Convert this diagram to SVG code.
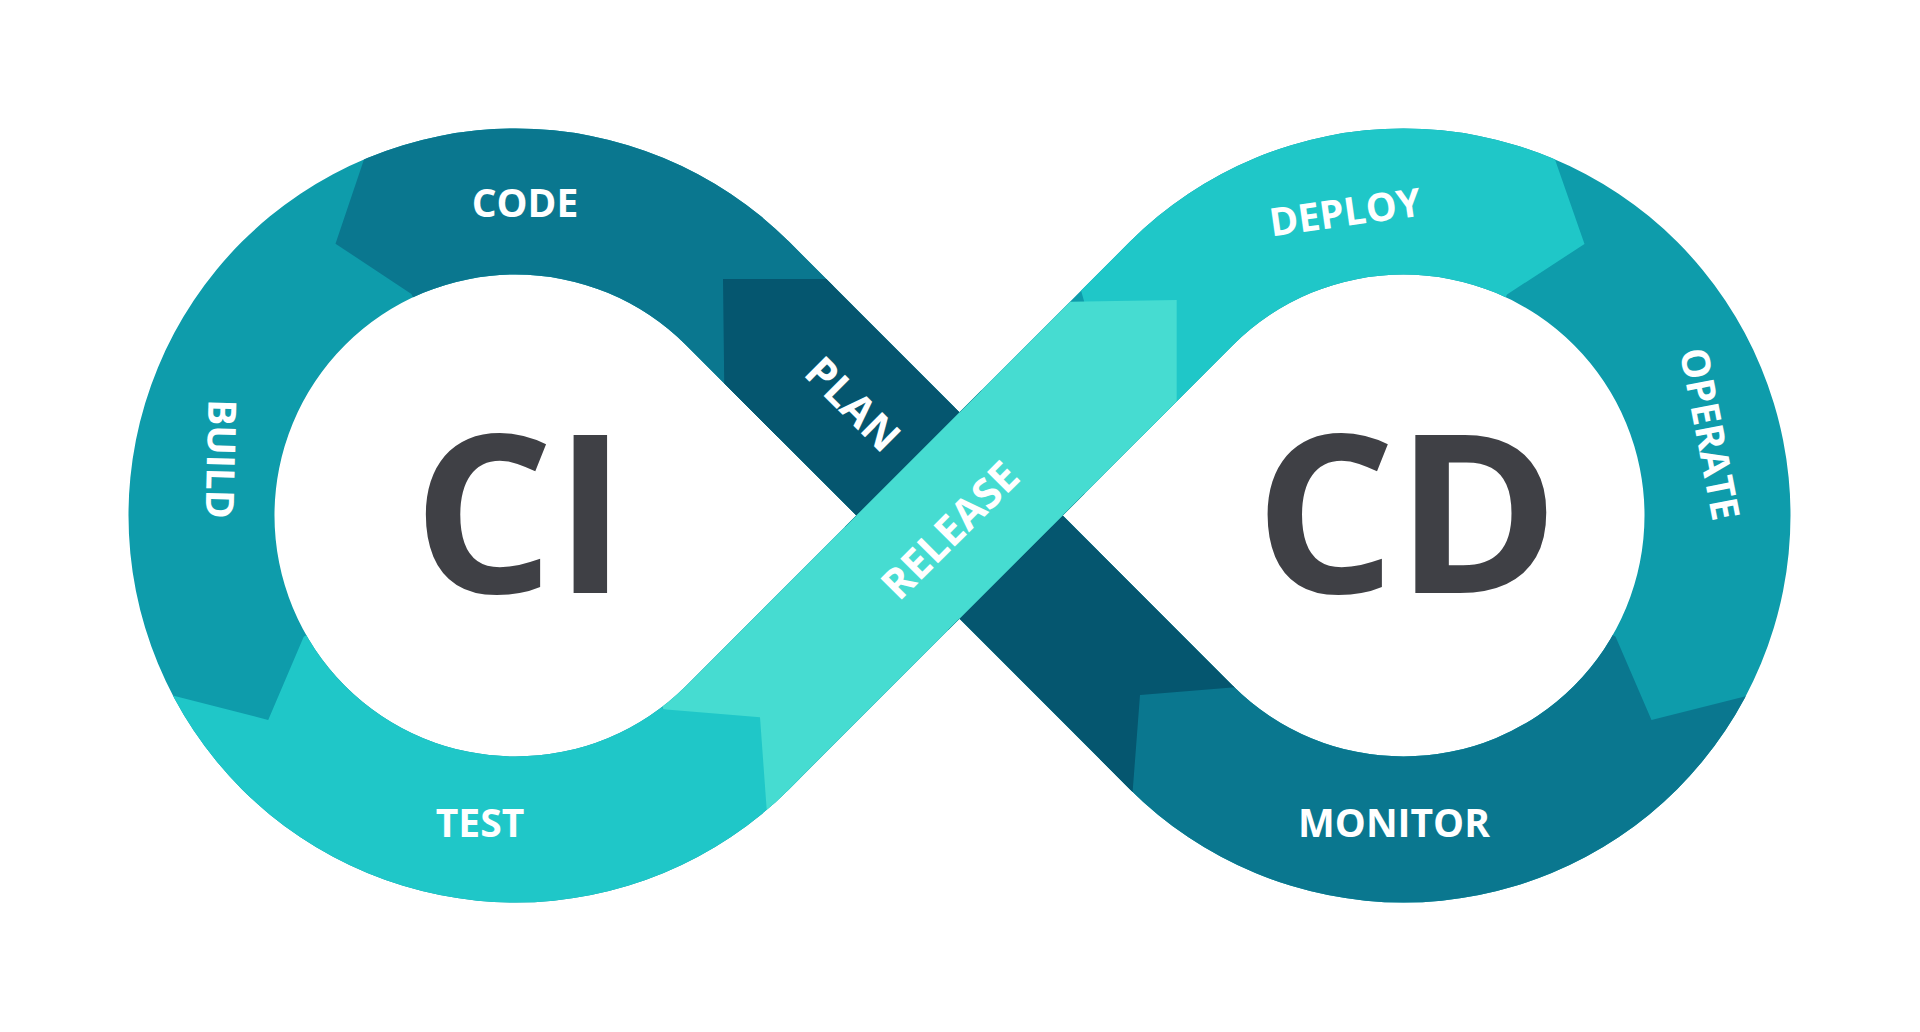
<svg xmlns="http://www.w3.org/2000/svg" width="1920" height="1032" viewBox="0 0 1920 1032">
<defs>
<clipPath id="inf">
<path clip-rule="evenodd" d="M789.15,241.85 L959.5,412.2 L1129.85,241.85 A387,387 0 1 1 1129.85,789.15 L959.5,618.75 L789.15,789.15 A387,387 0 1 1 789.15,241.85 Z M685.91,345.09 A241,241 0 1 0 685.91,685.91 L856.25,515.45 Z M1233.09,345.09 A241,241 0 1 1 1233.09,685.91 L1062.8,515.5 Z"/>
</clipPath>
<style>
.seg{clip-path:url(#inf);}
.lbl{font-family:"Open Sans","Liberation Sans",sans-serif;font-weight:700;font-size:39px;fill:#ffffff;text-anchor:middle;}
.mid{font-size:42px;}
.big{font-family:"Open Sans","Liberation Sans",sans-serif;font-weight:700;font-size:221px;fill:#3f4045;text-anchor:middle;}
.c-code{fill:#0a778f;}
.c-build{fill:#0e9cab;}
.c-test{fill:#1fc7c8;}
.c-plan{fill:#05566f;}
.c-rel{fill:#46dcd1;}
</style>
</defs>
<rect width="1920" height="1032" fill="#ffffff"/>
<g id="build">
<rect class="seg c-build" x="0" y="0" width="960" height="1032"/>
<text class="lbl" transform="translate(221,459) rotate(91.5)" x="0" y="14">BUILD</text>
</g>
<g id="operate">
<rect class="seg c-build" x="959" y="0" width="961" height="1032"/>
<text class="lbl" transform="translate(1710,434) rotate(79)" x="0" y="14">OPERATE</text>
</g>
<g id="code">
<polygon class="seg c-code" points="330,0 364.9,156.7 335.5,243.7 411.4,293.9 515.5,515.5 800,430 900,0"/>
<text class="lbl" x="525" y="217">CODE</text>
</g>
<g id="test">
<polygon class="seg c-test" points="104,731.5 172.7,695.5 268.2,720 303.7,636.7 515.5,515.5 663.3,709.3 800,700 800,1032 0,1032"/>
<text class="lbl" x="480" y="837">TEST</text>
</g>
<g id="deploy">
<polygon class="seg c-test" points="1000,0 1623,0 1555,159.5 1584.5,244 1507,294.5 1403.5,515.5 1120,430"/>
<text class="lbl" transform="translate(1345,212) rotate(-8)" x="0" y="14">DEPLOY</text>
</g>
<g id="monitor">
<polygon class="seg c-code" points="1849.8,750.2 1746.8,696 1651.5,720 1615.6,636.7 1403.5,515.5 1233.09,685.91 1100,650 1100,1032 1920,1032 1920,780"/>
<text class="lbl" x="1394" y="837">MONITOR</text>
</g>
<g id="plan">
<polygon class="seg c-plan" points="723,279 870,279 1275,684 1140,695 1131,813 724.5,406"/>
<text class="lbl mid" transform="translate(853,404) rotate(45)" x="0" y="15">PLAN</text>
</g>
<g id="release">
<polygon class="seg c-rel" points="760,717.3 663.3,709.3 655,690 685.91,685.91 1070,301.7 1176.7,300 1176.7,401.6 789.15,789.15 800,815 766.7,810"/>
<text class="lbl mid" transform="translate(950,530) rotate(-45)" x="0" y="15">RELEASE</text>
</g>
<g id="ci">
<text class="big" x="520" y="593">CI</text>
</g>
<g id="cd">
<text class="big" x="1407" y="593">CD</text>
</g>
<g id="connectors"/>
</svg>
